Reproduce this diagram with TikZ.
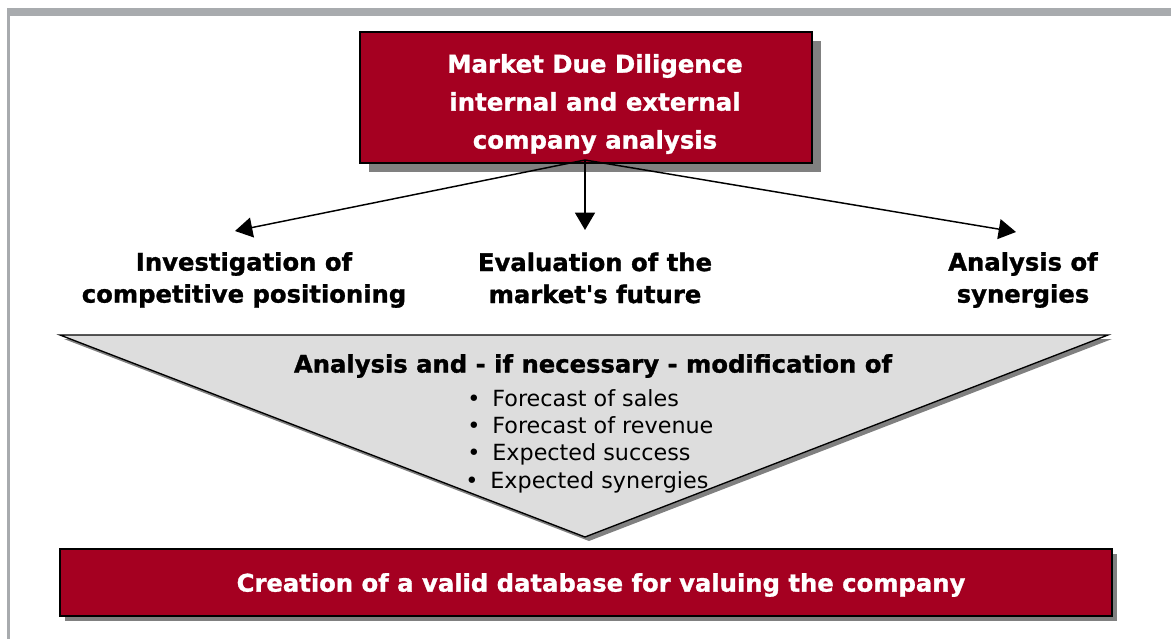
\documentclass[tikz,border=0pt]{standalone}
\usepackage{fontspec}
\setmainfont{DejaVu Sans}[Ligatures=TeXOff, BoldFeatures={FakeBold=1.2}]
\usetikzlibrary{arrows.meta}

\definecolor{ddred}{HTML}{A50021}
\definecolor{shadowgray}{HTML}{808080}
\definecolor{framegray}{HTML}{A8ABAE}
\definecolor{funnelgray}{HTML}{DDDDDD}

\tikzset{
  redbox/.style={draw=black, line width=1pt, fill=ddred, inner sep=0pt},
  whitetext/.style={text=white, inner sep=0pt, align=center},
  label/.style={font=\fontsize{18.2pt}{24pt}\selectfont\bfseries, align=center, inner sep=0pt},
  bullet/.style={font=\fontsize{16.7pt}{20.5pt}\selectfont, inner sep=0pt, anchor=base west},
  flow/.style={line width=1.1pt, -{Triangle[length=13pt, width=15pt]}},
}

\begin{document}
\begin{tikzpicture}[x=0.75pt, y=-0.75pt]
  \useasboundingbox (0,0) rectangle (1171,639);

  % page frame
  \fill[framegray] (7,8) rectangle (1171,16);
  \fill[framegray] (7,8) rectangle (10,639);

  % top box
  \fill[shadowgray] (369,41) rectangle (821,172);
  \node[redbox, minimum width=339pt, minimum height=98.25pt] (mdd) at (586,97.5) {};
  \node[whitetext, font=\fontsize{18.3pt}{28.5pt}\selectfont\bfseries]
    (mddtext) at (595,104) {Market Due Diligence\\internal and external\\company analysis};

  % the three lines of analysis
  \node[label] (inv) at (244,280) {Investigation of\\competitive positioning};
  \node[label] (eva) at (595,278) {Evaluation of the\\market's future};
  \node[label] (syn) at (1023,280) {Analysis of\\synergies};

  \coordinate (inv-in) at (235,231);
  \coordinate (eva-in) at (585,230);
  \coordinate (syn-in) at (1016,232);
  \coordinate (mdd-out) at (585,160);

  \draw[flow] (mdd-out) -- (inv-in);
  \draw[flow] (mdd-out) -- (eva-in);
  \draw[flow] (mdd-out) -- (syn-in);

  % funnel
  \fill[shadowgray] (64,339) -- (1112,339) -- (589,541) -- cycle;
  \draw[line width=1pt, fill=funnelgray] (60,335) -- (1108,335) -- (585,537) -- cycle;

  \node[font=\fontsize{18.2pt}{22pt}\selectfont\bfseries, inner sep=0pt]
    (mod) at (593,366) {Analysis and - if necessary - modification of};
  \node[bullet] (b1) at (467,406) {\textbullet\hspace{9pt}Forecast of sales};
  \node[bullet] (b2) at (467,433) {\textbullet\hspace{9pt}Forecast of revenue};
  \node[bullet] (b3) at (467,460) {\textbullet\hspace{9pt}Expected success};
  \node[bullet] (b4) at (465,488) {\textbullet\hspace{9pt}Expected synergies};

  % bottom box
  \fill[shadowgray] (65,554) rectangle (1117,621);
  \node[redbox, minimum width=789pt, minimum height=50.25pt] (db) at (586,582.5) {};
  \node[whitetext, font=\fontsize{18.2pt}{23pt}\selectfont\bfseries]
    (dbtext) at (601,585) {Creation of a valid database for valuing the company};
\end{tikzpicture}
\end{document}
